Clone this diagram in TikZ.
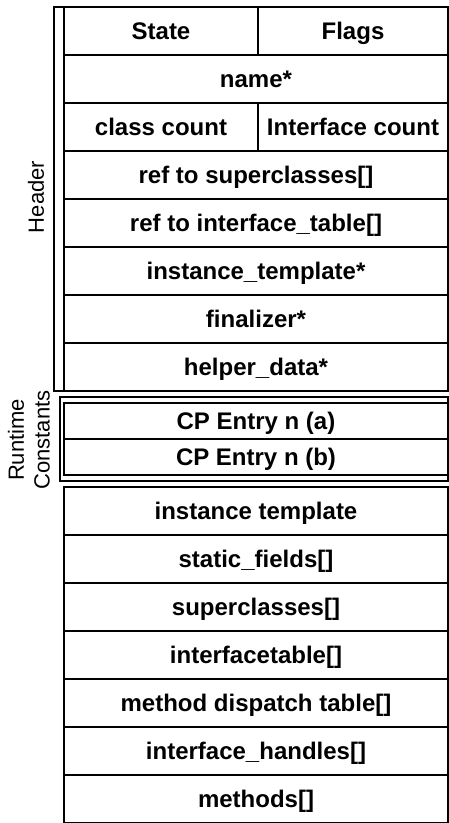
\documentclass[tikz,border=0pt]{standalone}
\usepackage{fontspec}
\setmainfont{Liberation Sans}
\usetikzlibrary{positioning}

\begin{document}
\begin{tikzpicture}[
            x=1pt, y=1pt,
            font=\bfseries\fontsize{24}{26}\selectfont,
            row/.style={draw, line width=1.3pt, minimum width=384pt,
                        minimum height=48pt, inner sep=0pt, outer sep=0pt,
                        text height=21pt, text depth=4.5pt},
            leftcell/.style={row, minimum width=194pt},
            rightcell/.style={row, minimum width=190pt},
            cprow/.style={row, minimum height=36pt},
            frame/.style={draw, line width=1.3pt},
            side/.style={font=\mdseries\fontsize{22}{24}\selectfont, rotate=90}]
            \useasboundingbox (0,0) rectangle (449,-823);

            % header
            \node [leftcell, anchor=north west] (state) at (64,-7) {State};
            \node [rightcell, right=0pt of state] (flags) {Flags};
            \node [row, below=0pt of state.south west, anchor=north west] (name) {name*};
            \node [leftcell, below=0pt of name.south west, anchor=north west] (ccount) {class count};
            \node [rightcell, right=0pt of ccount] (icount) {Interface count};
            \node [row, below=0pt of ccount.south west, anchor=north west] (refsuper) {ref to superclasses[]};
            \node [row, below=0pt of refsuper] (refitab) {ref to interface\_table[]};
            \node [row, below=0pt of refitab] (itempl) {instance\_template*};
            \node [row, below=0pt of itempl] (final) {finalizer*};
            \node [row, below=0pt of final] (helper) {helper\_data*};
            \draw [frame] ([xshift=-10pt]state.north west) rectangle (helper.south east);

            % runtime constants
            \node [cprow, below=12pt of helper] (cpa) {CP Entry n (a)};
            \node [cprow, below=0pt of cpa] (cpb) {CP Entry n (b)};
            \draw [frame] ([shift={(-4pt,6pt)}]cpa.north west) rectangle ([yshift=-6pt]cpb.south east);

            % body
            \node [row, below=12pt of cpb] (inst) {instance template};
            \node [row, below=0pt of inst] (sfields) {static\_fields[]};
            \node [row, below=0pt of sfields] (supers) {superclasses[]};
            \node [row, below=0pt of supers] (itable) {interfacetable[]};
            \node [row, below=0pt of itable] (mdt) {method dispatch table[]};
            \node [row, below=0pt of mdt] (ihandles) {interface\_handles[]};
            \node [row, below=0pt of ihandles] (methods) {methods[]};

            % side labels
            \node [side] (hdr) at (36,-197) {Header};
            \node [side] (rt) at (16,-440) {Runtime};
            \node [side] (cst) at (42,-440) {Constants};
        \end{tikzpicture}
\end{document}
